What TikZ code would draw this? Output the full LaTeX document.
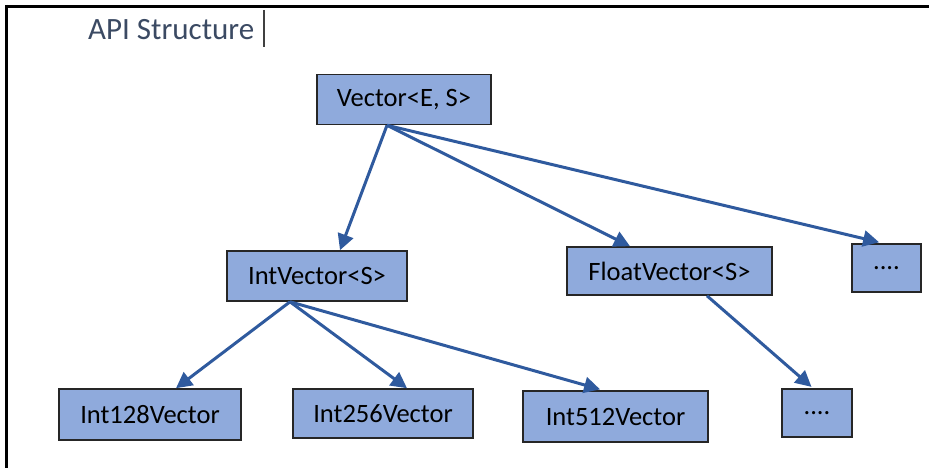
\documentclass[tikz,border=0pt]{standalone}
\usepackage{fontspec}
\setmainfont{Carlito}
\usetikzlibrary{arrows.meta,calc}
\definecolor{boxfill}{HTML}{8FAADC}
\definecolor{arrowblue}{HTML}{2F5A9E}
\definecolor{titlecol}{HTML}{3B4A63}
\definecolor{boxline}{HTML}{262626}
\begin{document}
\begin{tikzpicture}[x=1pt,y=-1pt,
  box/.style={draw=boxline,line width=1.6pt,fill=boxfill,inner sep=0pt,
    font=\fontsize{26.5}{29}\selectfont,text=black},
  link/.style={draw=arrowblue,line width=3pt,
    -{Triangle[length=16pt,width=16pt]}}]
\useasboundingbox (0,0) rectangle (929,468);
% frame
\draw[line width=3pt] (6,6.5) -- (929,6.5);
\draw[line width=3pt] (6.5,5) -- (6.5,468);
% title and cursor
\node[anchor=base west,inner sep=0pt,text=titlecol,font=\fontsize{31}{34}\selectfont] (title) at (88,40) {API Structure};
\draw[line width=1.5pt,draw=black!75] (264,10) -- (264,47);
% boxes
\node[box,minimum width=174pt,minimum height=50pt] (v) at (404,99.5) {Vector<E, S>};
\node[box,minimum width=180pt,minimum height=50pt] (i) at (317,276) {IntVector<S>};
\node[box,minimum width=205pt,minimum height=48pt] (f) at (669.5,271) {FloatVector<S>};
\node[box,minimum width=69pt,minimum height=48pt] (d1) at (886.5,268) {....};
\node[box,minimum width=182pt,minimum height=51pt] (a) at (150,414.5) {Int128Vector};
\node[box,minimum width=180pt,minimum height=49pt] (b) at (383,413.5) {Int256Vector};
\node[box,minimum width=185pt,minimum height=51pt] (c) at (615.5,416.5) {Int512Vector};
\node[box,minimum width=70pt,minimum height=48pt] (d2) at (817,413) {....};
% connectors
\draw[link] ([xshift=-17pt]v.south) -- ([xshift=23pt]i.north);
\draw[link] ([xshift=-17pt]v.south) -- ([xshift=-39.5pt]f.north);
\draw[link,shorten >=4pt] ([xshift=-17pt]v.south) -- ([xshift=-3.5pt]d1.north);
\draw[link] ([xshift=-27pt]i.south) -- ([xshift=26pt]a.north);
\draw[link] ([xshift=-27pt]i.south) -- ([xshift=24pt]b.north);
\draw[link,shorten >=3pt] ([xshift=-27pt]i.south) -- ([xshift=-12.5pt]c.north);
\draw[link,shorten >=2pt] ([xshift=37.5pt]f.south) -- ([xshift=-4pt]d2.north);
\end{tikzpicture}
\end{document}
